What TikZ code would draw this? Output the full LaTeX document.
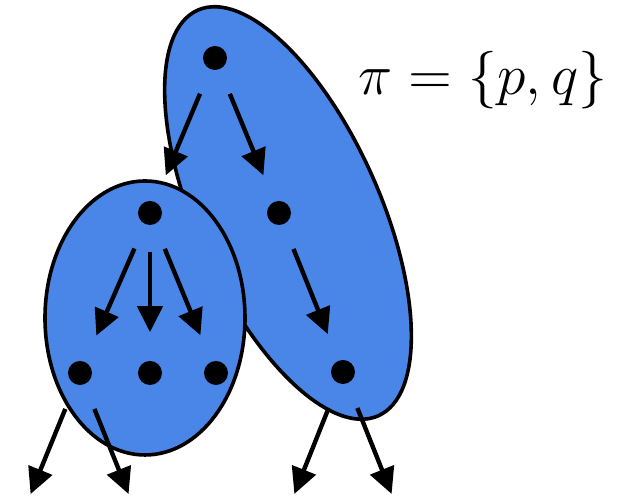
\documentclass[tikz,border=0pt]{standalone}
\usepackage{amsmath}
\usepackage{tikz}
\usetikzlibrary{arrows.meta}

\definecolor{setblue}{RGB}{74,134,232}

\tikzset{
  dot/.style={circle, fill=black, inner sep=0pt, minimum size=6pt},
  edge/.style={line width=1.1pt, -{Triangle[length=6.5pt,width=6.25pt]},
               shorten <=6.5pt, shorten >=7pt},
  bubble/.style={draw=black, line width=0.9pt, fill=setblue}
}

\begin{document}
\begin{tikzpicture}[x=0.25pt, y=-0.25pt]
                        \useasboundingbox (0,0) rectangle (636,499);

                        % Sets
                        \draw[bubble, rotate around={24:(288,213)}] (288,213) ellipse [x radius=92, y radius=222];
                        \draw[bubble] (145,318) ellipse [x radius=100, y radius=137];

                        % Nodes
                        \node[dot] (p) at (215,58) {};
                        \node[dot] (q) at (279,213) {};
                        \node[dot] (r) at (343,372) {};
                        \node[dot] (a) at (150,213) {};
                        \node[dot] (a1) at (80,373) {};
                        \node[dot] (a2) at (150,373) {};
                        \node[dot] (a3) at (216,373) {};

                        % Children outside the picture
                        \coordinate (a11) at (20,520);
                        \coordinate (a12) at (139,520);
                        \coordinate (r1) at (284,520);
                        \coordinate (r2) at (402,520);

                        % Label
                        \node[font=\fontsize{15}{18}\selectfont] (pi) at (483,80) {$\pi = \{p, q\}$};

                        % Edges
                        \draw[edge] (p) -- (a);
                        \draw[edge] (p) -- (q);
                        \draw[edge] (q) -- (r);

                        \draw[edge] (a) -- (a1);
                        \draw[edge] (a) -- (a2);
                        \draw[edge] (a) -- (a3);

                        \draw[edge] (a1) -- (a11);
                        \draw[edge] (a1) -- (a12);
                        \draw[edge] (r) -- (r1);
                        \draw[edge] (r) -- (r2);
                    \end{tikzpicture}
\end{document}
